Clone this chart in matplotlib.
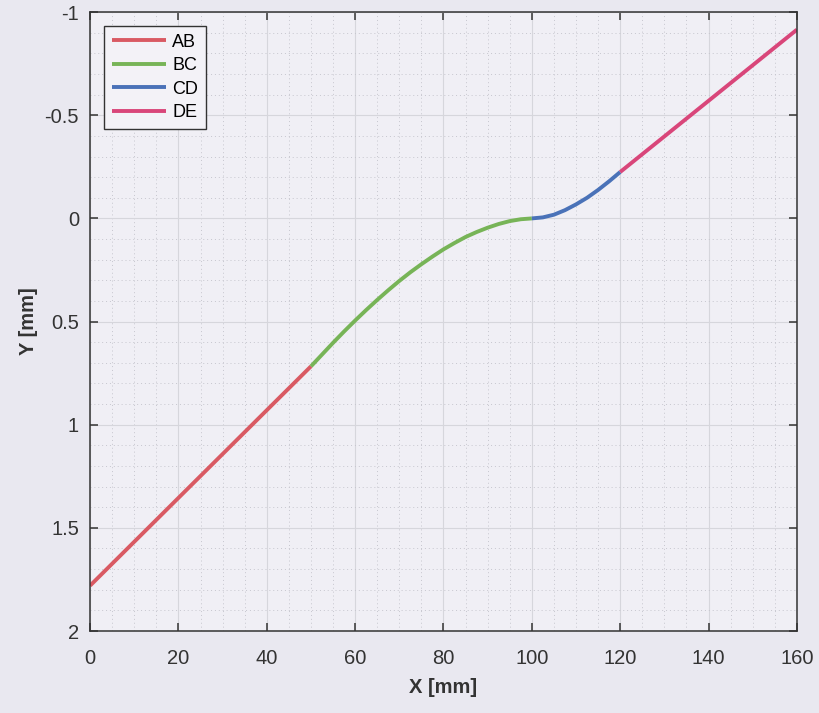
import matplotlib.pyplot as plt
from matplotlib.ticker import MultipleLocator

# segment data (x in mm, y in mm)
ab_x = [0, 50]
ab_y = [1.78, 0.717]

bc_x = [50, 52.5, 55, 57.5, 60, 62.5, 65, 67.5, 70, 72.5, 75,
        77.5, 80, 82.5, 85, 87.5, 90, 92.5, 95, 97.5, 100]
bc_y = [0.717, 0.66, 0.603, 0.548, 0.495, 0.444, 0.395, 0.348, 0.303, 0.261, 0.222,
        0.185, 0.15, 0.119, 0.09, 0.066, 0.045, 0.027, 0.013, 0.004, 0.0]

cd_x = [100, 102.5, 105, 107.5, 110, 112.5, 115, 117.5, 120]
cd_y = [0.0, -0.005, -0.018, -0.04, -0.068, -0.1, -0.138, -0.18, -0.225]

de_x = [120, 160]
de_y = [-0.225, -0.915]

x_ticks = [0, 20, 40, 60, 80, 100, 120, 140, 160]
y_ticks = [-1, -0.5, 0, 0.5, 1, 1.5, 2]
y_tick_labels = ['-1', '-0.5', '0', '0.5', '1', '1.5', '2']

plt.rcParams['font.family'] = ['Liberation Sans', 'DejaVu Sans']

fig = plt.figure(figsize=(8.19, 7.13), dpi=100)
fig.patch.set_facecolor('#e9e8f0')
ax = fig.add_axes([0.110, 0.115, 0.863, 0.868])
ax.set_facecolor('#f0eff5')

ax.plot(ab_x, ab_y, color='#d95a63', lw=2.8, label='AB', solid_capstyle='butt')
ax.plot(bc_x, bc_y, color='#77b457', lw=2.8, label='BC', solid_capstyle='butt')
ax.plot(cd_x, cd_y, color='#4a72b8', lw=2.8, label='CD', solid_capstyle='butt')
ax.plot(de_x, de_y, color='#d9467a', lw=2.8, label='DE', solid_capstyle='butt')

ax.set_xlim(0, 160)
ax.set_ylim(2, -1)
ax.set_xticks(x_ticks)
ax.set_yticks(y_ticks)
ax.set_yticklabels(y_tick_labels)
ax.xaxis.set_minor_locator(MultipleLocator(5))
ax.yaxis.set_minor_locator(MultipleLocator(0.1))

# matlab style grid: faint solid major, dotted minor
ax.grid(which='major', color='#d6d6dc', lw=0.8, ls='-')
ax.grid(which='minor', color='#c6c6ce', lw=0.7, ls=(0, (1, 3)))
ax.set_axisbelow(True)

ax.tick_params(which='major', direction='in', length=6, width=1.1,
               top=True, right=True, labelsize=14.5, colors='#333333')
ax.tick_params(axis='x', which='major', pad=13)
ax.tick_params(axis='y', which='major', pad=8)
ax.tick_params(which='minor', length=0, top=True, right=True)
for s in ax.spines.values():
    s.set_color('#333333')
    s.set_linewidth(1.1)

ax.set_xlabel('X [mm]', fontsize=14.5, fontweight='bold', color='#333333', labelpad=7)
ax.set_ylabel('Y [mm]', fontsize=14.5, fontweight='bold', color='#333333', labelpad=5)

leg = ax.legend(loc='upper left', fontsize=13, frameon=True, fancybox=False,
                borderaxespad=0.75, handlelength=3.0, handletextpad=0.35,
                labelspacing=0.36, borderpad=0.45)
leg.get_frame().set_edgecolor('#333333')
leg.get_frame().set_facecolor('#f3f2f7')
leg.get_frame().set_linewidth(1.0)
leg.get_frame().set_alpha(1.0)

fig.savefig('out.png', dpi=100, facecolor=fig.get_facecolor())
